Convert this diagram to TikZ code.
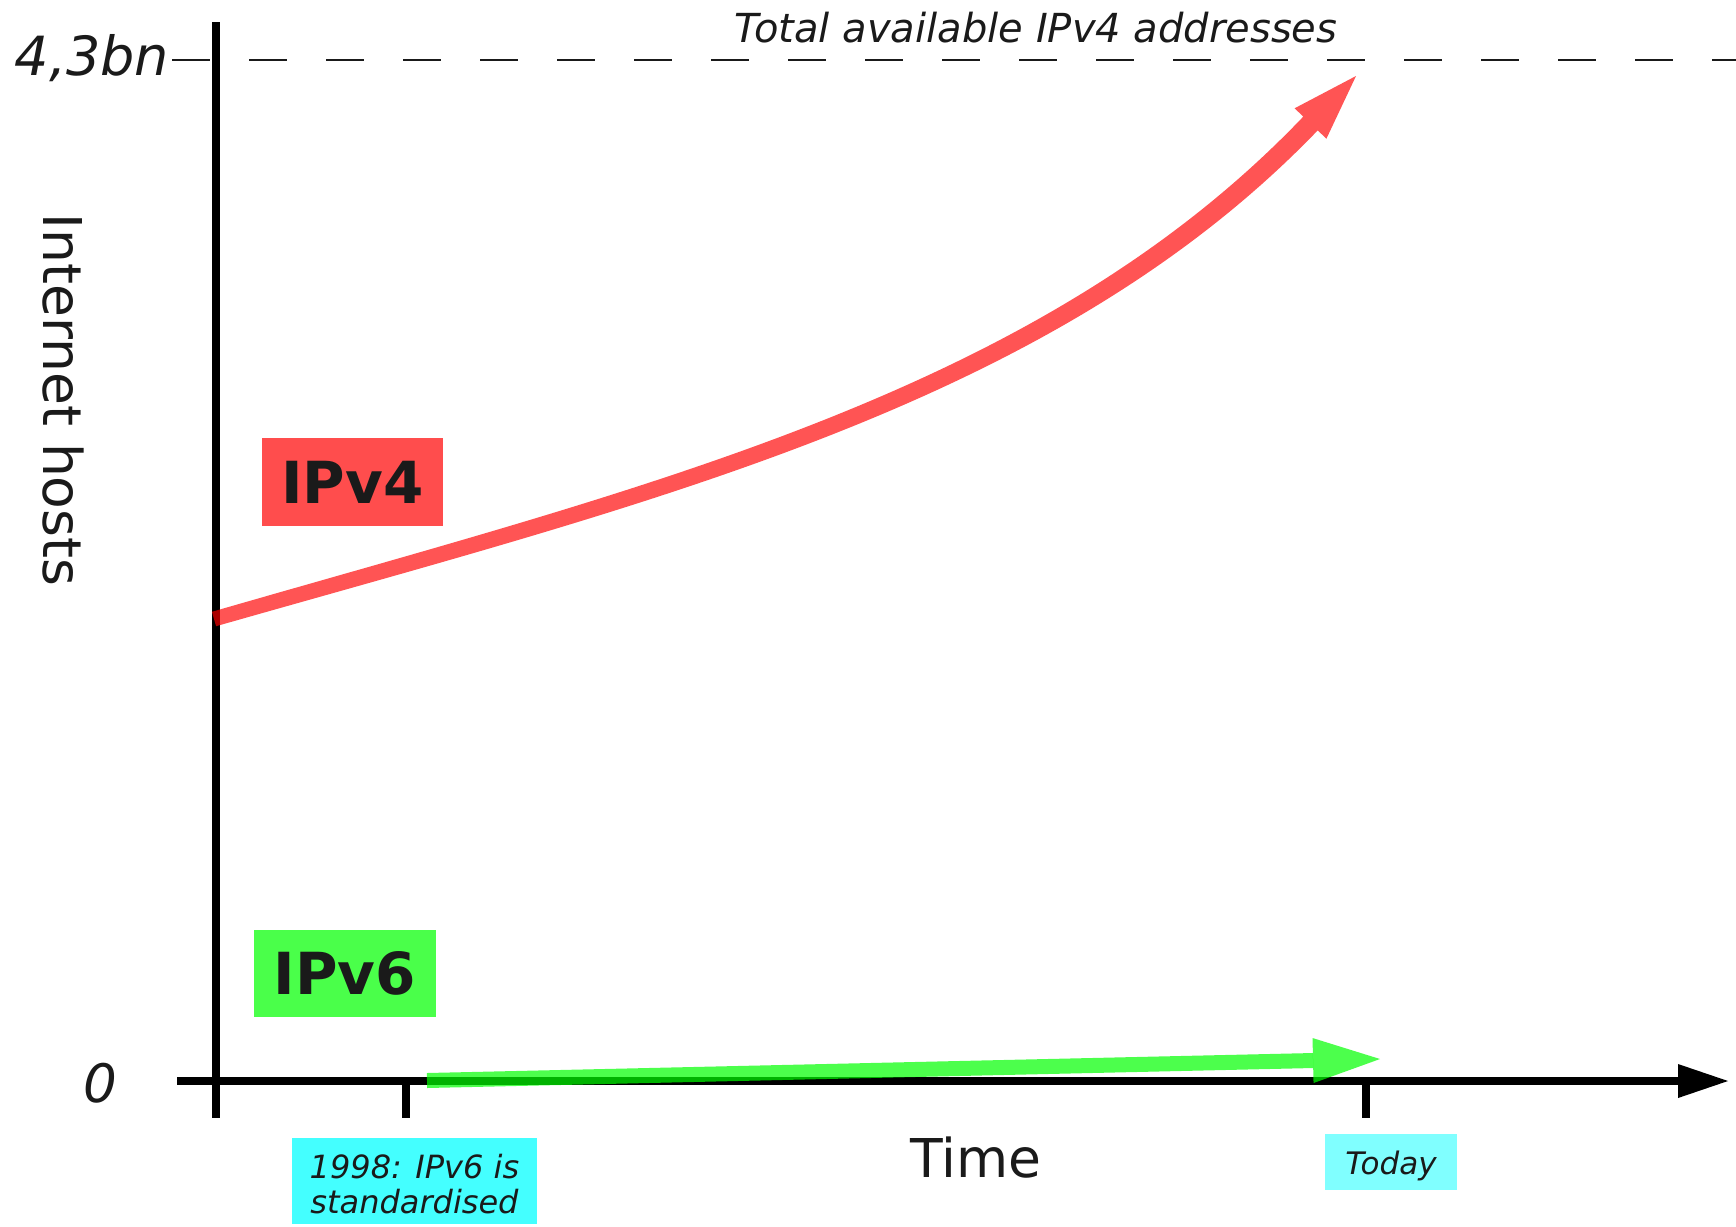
\documentclass[tikz,border=0pt]{standalone}
\usepackage{fontspec}
\setmainfont{DejaVu Sans}
\usetikzlibrary{arrows.meta}
\definecolor{ink}{HTML}{1A1A1A}
\definecolor{vfourred}{HTML}{FF0000}
\definecolor{vsixgreen}{HTML}{00FF00}
\definecolor{vfourbox}{HTML}{FF4D4D}
\definecolor{vsixbox}{HTML}{4AFF4A}
\definecolor{stdbox}{HTML}{44FFFF}
\definecolor{todaybox}{HTML}{80FFFF}
\begin{document}
\begin{tikzpicture}[x=1pt,y=-1pt,
  every node/.style={text=ink, inner sep=0pt},
  axisline/.style={line width=7.5pt, draw=black},
  limitline/.style={line width=1.5pt, draw=ink, dash pattern=on 38pt off 39pt},
  growth/.style={fill=vfourred, fill opacity=0.67},
  adoption/.style={line width=15pt, draw=vsixgreen, draw opacity=0.7, fill opacity=0.7,
    -{Triangle[length=67pt,width=45pt,line width=0pt]}},
  protolabel/.style={font=\fontsize{58}{68}\selectfont\bfseries, anchor=base},
  eventlabel/.style={font=\fontsize{31}{36}\selectfont\itshape},
  axislabel/.style={font=\fontsize{53.5}{64}\selectfont, anchor=base},
  valuelabel/.style={font=\fontsize{54}{64}\selectfont\itshape, anchor=base}]
\useasboundingbox (0,0) rectangle (1736,1226);
\fill[white] (0,0) rectangle (1736,1226);

% axes and ticks
\coordinate (ytop) at (216,22);
\coordinate (ybot) at (216,1118);
\coordinate (xleft) at (177,1081);
\coordinate (xright) at (1728,1081);
\coordinate (tickA) at (406,1081);
\coordinate (tickAend) at (406,1118);
\coordinate (tickB) at (1366,1081);
\coordinate (tickBend) at (1366,1118);
\coordinate (limitL) at (172,60);
\coordinate (limitR) at (1736,60);

\draw[limitline] (limitL) -- (limitR);
\draw[axisline] (ytop) -- (ybot);
\draw[axisline, -{Triangle[length=50pt,width=34pt,line width=0pt]}] (xleft) -- (xright);
\draw[axisline] (tickA) -- (tickAend);
\draw[axisline] (tickB) -- (tickBend);

% axis texts
\node[valuelabel] (maxval) at (92,75) {4,3bn};
\node[valuelabel, font=\fontsize{53}{64}\selectfont\itshape] (zeroval) at (100,1102) {0};
\node[font=\fontsize{40}{48}\selectfont\itshape, anchor=base] (limittext) at (1036,42) {Total available IPv4 addresses};
\node[axislabel] (timelabel) at (976,1177) {Time};
\node[axislabel, rotate=-90] (hostslabel) at (43,400) {Internet hosts};

% IPv4 growth: a stroke that widens slightly towards its arrow head
\coordinate (vfourupperA) at (211.9,611.8);
\coordinate (vfourupperB) at (1303.3,116.6);
\coordinate (vfourlowerA) at (216.1,626.2);
\coordinate (vfourlowerB) at (1317.7,130.4);
\coordinate (vfourbarbU) at (1294.6,108.3);
\coordinate (vfourbarbL) at (1326.4,138.7);
\coordinate (vfourtip) at (1356,76);
\fill[growth] (vfourupperA) .. controls (646.7,486.0) and (1038.9,393.7) .. (vfourupperB)
  -- (vfourbarbU) -- (vfourtip) -- (vfourbarbL) -- (vfourlowerB)
  .. controls (1052.1,406.3) and (651.3,502.0) .. (vfourlowerA) -- cycle;

% IPv6 growth
\coordinate (vsixstart) at (427,1080.5);
\coordinate (vsixtip) at (1380,1059);
\draw[adoption] (vsixstart) -- (vsixtip);

% protocol labels
\node[protolabel, fill=vfourbox, text height=65pt, text depth=23pt, minimum width=181pt] (vfour) at (352.5,503) {IPv4};
\node[protolabel, fill=vsixbox, text height=64pt, text depth=23pt, minimum width=182pt] (vsix) at (345,994) {IPv6};

% time markers
\node[fill=stdbox, minimum width=245pt, minimum height=86pt] (standard) at (414.5,1181) {};
\node[eventlabel, font=\fontsize{32}{35}\selectfont\itshape, align=center] (standardtext) at (414.5,1184.5) {1998: IPv6 is\\standardised};
\node[eventlabel, anchor=base, fill=todaybox, text height=40pt, text depth=16pt, minimum width=132pt] (today) at (1391,1174) {Today};
\end{tikzpicture}
\end{document}
